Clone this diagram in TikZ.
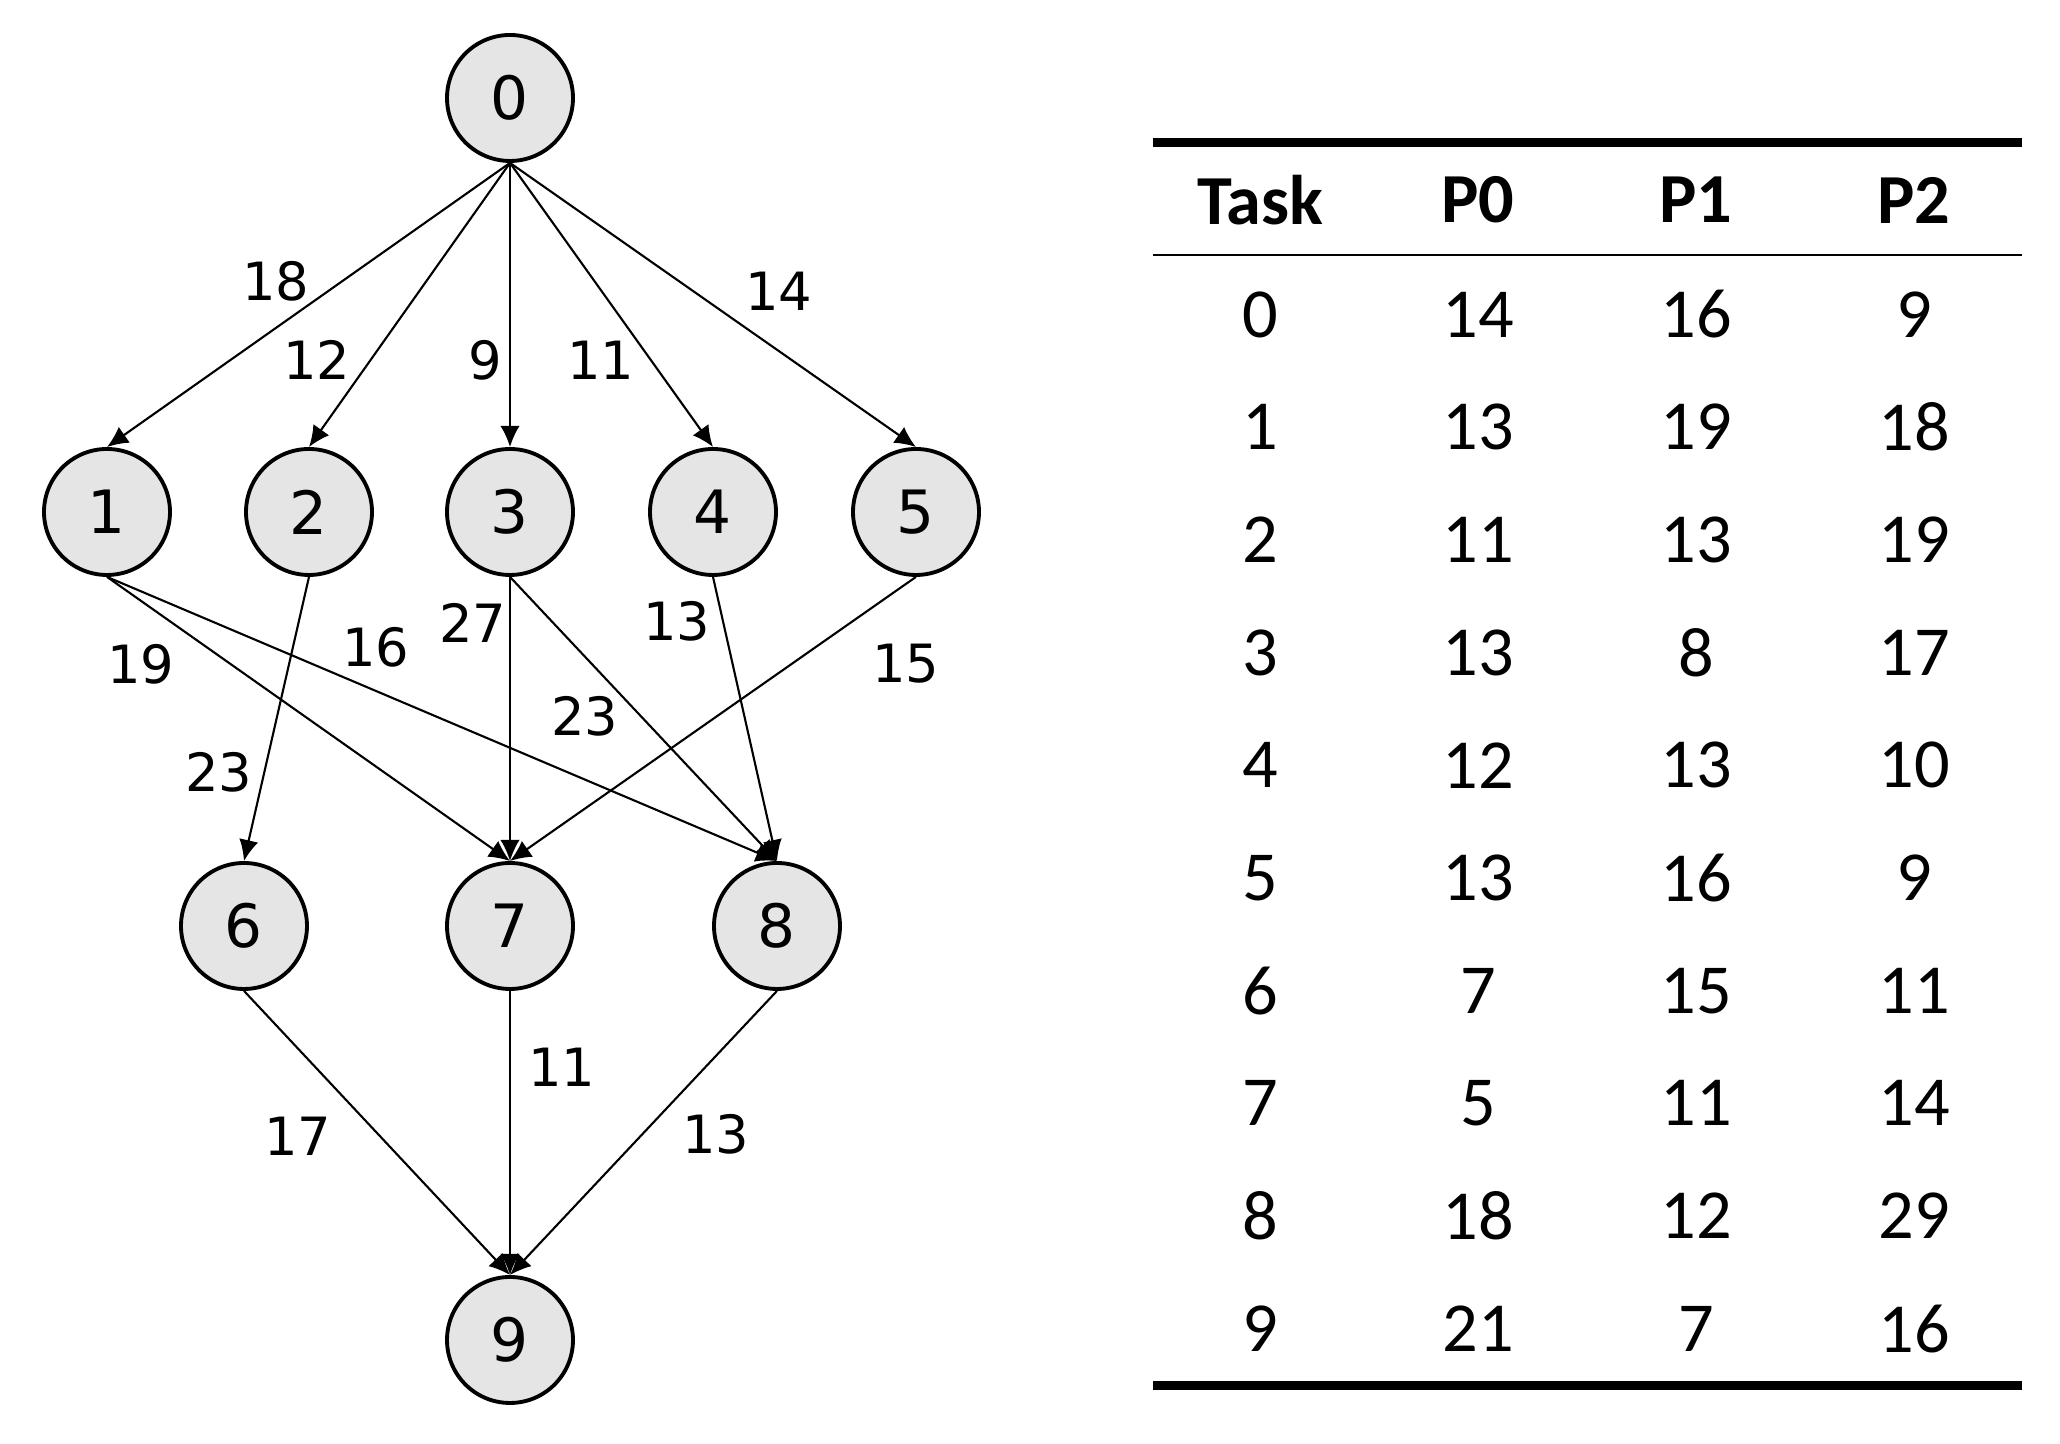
\documentclass[tikz,border=0pt]{standalone}
\usepackage{fontspec}
\setmainfont{Carlito}
\newfontfamily\graphfont{DejaVu Sans}
\usetikzlibrary{arrows.meta}

\tikzset{
  task/.style={circle, draw, line width=1.1pt, fill=black!10, minimum size=1.26cm, inner sep=0pt,
    font=\graphfont\fontsize{17}{20}\selectfont},
  cost/.style={font=\graphfont\fontsize{15}{18}\selectfont},
  edge/.style={line width=0.6pt, -{Latex[length=6pt,width=5.5pt]}},
  cell/.style={font=\fontsize{20}{24}\selectfont},
  headcell/.style={font=\bfseries\fontsize{20}{24}\selectfont}
}

\begin{document}
\begin{tikzpicture}
    \useasboundingbox (0.0, 0.0) rectangle (20.6, 14.44);

    % task graph
    \node[task] (n0) at (5.10, 13.46) {0};
    \node[task] (n1) at (1.07, 9.32) {1};
    \node[task] (n2) at (3.09, 9.32) {2};
    \node[task] (n3) at (5.10, 9.32) {3};
    \node[task] (n4) at (7.13, 9.32) {4};
    \node[task] (n5) at (9.16, 9.32) {5};
    \node[task] (n6) at (2.44, 5.18) {6};
    \node[task] (n7) at (5.10, 5.18) {7};
    \node[task] (n8) at (7.77, 5.18) {8};
    \node[task] (n9) at (5.10, 1.04) {9};

    \draw[edge] (n0.south) -- (n1.north);
    \draw[edge] (n0.south) -- (n2.north);
    \draw[edge] (n0.south) -- (n3.north);
    \draw[edge] (n0.south) -- (n4.north);
    \draw[edge] (n0.south) -- (n5.north);
    \draw[edge] (n1.south) -- (n7.north);
    \draw[edge] (n1.south) -- (n8.north);
    \draw[edge] (n2.south) -- (n6.north);
    \draw[edge] (n3.south) -- (n7.north);
    \draw[edge] (n3.south) -- (n8.north);
    \draw[edge] (n4.south) -- (n8.north);
    \draw[edge] (n5.south) -- (n7.north);
    \draw[edge] (n6.south) -- (n9.north);
    \draw[edge] (n7.south) -- (n9.north);
    \draw[edge] (n8.south) -- (n9.north);

    \node[cost] (c01) at (2.76, 11.63) {18};
    \node[cost] (c02) at (3.17, 10.84) {12};
    \node[cost] (c03) at (4.85, 10.84) {9};
    \node[cost] (c04) at (6.01, 10.84) {11};
    \node[cost] (c05) at (7.79, 11.53) {14};
    \node[cost] (c17) at (1.41, 7.80) {19};
    \node[cost] (c18) at (3.76, 7.97) {16};
    \node[cost] (c26) at (2.19, 6.72) {23};
    \node[cost] (c37) at (4.73, 8.21) {27};
    \node[cost] (c38) at (5.85, 7.28) {23};
    \node[cost] (c48) at (6.77, 8.23) {13};
    \node[cost] (c57) at (9.06, 7.80) {15};
    \node[cost] (c69) at (2.98, 3.08) {17};
    \node[cost] (c79) at (5.62, 3.77) {11};
    \node[cost] (c89) at (7.16, 3.10) {13};

    % cost table
    \draw[line width=2.3pt] (11.53, 13.015) -- (20.22, 13.015);
    \draw[line width=0.5pt] (11.53, 11.89) -- (20.22, 11.89);
    \draw[line width=2.3pt] (11.53, 0.585) -- (20.22, 0.585);

    \node[headcell] (hT) at (12.60, 12.44) {Task};
    \node[headcell] (hP0) at (14.78, 12.44) {P0};
    \node[headcell] (hP1) at (16.96, 12.44) {P1};
    \node[headcell] (hP2) at (19.14, 12.44) {P2};

    \node[cell] (t0) at (12.60, 11.295) {0};
    \node[cell] (a0) at (14.78, 11.295) {14};
    \node[cell] (b0) at (16.96, 11.295) {16};
    \node[cell] (d0) at (19.14, 11.295) {9};

    \node[cell] (t1) at (12.60, 10.168) {1};
    \node[cell] (a1) at (14.78, 10.168) {13};
    \node[cell] (b1) at (16.96, 10.168) {19};
    \node[cell] (d1) at (19.14, 10.168) {18};

    \node[cell] (t2) at (12.60, 9.041) {2};
    \node[cell] (a2) at (14.78, 9.041) {11};
    \node[cell] (b2) at (16.96, 9.041) {13};
    \node[cell] (d2) at (19.14, 9.041) {19};

    \node[cell] (t3) at (12.60, 7.914) {3};
    \node[cell] (a3) at (14.78, 7.914) {13};
    \node[cell] (b3) at (16.96, 7.914) {8};
    \node[cell] (d3) at (19.14, 7.914) {17};

    \node[cell] (t4) at (12.60, 6.787) {4};
    \node[cell] (a4) at (14.78, 6.787) {12};
    \node[cell] (b4) at (16.96, 6.787) {13};
    \node[cell] (d4) at (19.14, 6.787) {10};

    \node[cell] (t5) at (12.60, 5.660) {5};
    \node[cell] (a5) at (14.78, 5.660) {13};
    \node[cell] (b5) at (16.96, 5.660) {16};
    \node[cell] (d5) at (19.14, 5.660) {9};

    \node[cell] (t6) at (12.60, 4.533) {6};
    \node[cell] (a6) at (14.78, 4.533) {7};
    \node[cell] (b6) at (16.96, 4.533) {15};
    \node[cell] (d6) at (19.14, 4.533) {11};

    \node[cell] (t7) at (12.60, 3.406) {7};
    \node[cell] (a7) at (14.78, 3.406) {5};
    \node[cell] (b7) at (16.96, 3.406) {11};
    \node[cell] (d7) at (19.14, 3.406) {14};

    \node[cell] (t8) at (12.60, 2.279) {8};
    \node[cell] (a8) at (14.78, 2.279) {18};
    \node[cell] (b8) at (16.96, 2.279) {12};
    \node[cell] (d8) at (19.14, 2.279) {29};

    \node[cell] (t9) at (12.60, 1.152) {9};
    \node[cell] (a9) at (14.78, 1.152) {21};
    \node[cell] (b9) at (16.96, 1.152) {7};
    \node[cell] (d9) at (19.14, 1.152) {16};

  \end{tikzpicture}
\end{document}
